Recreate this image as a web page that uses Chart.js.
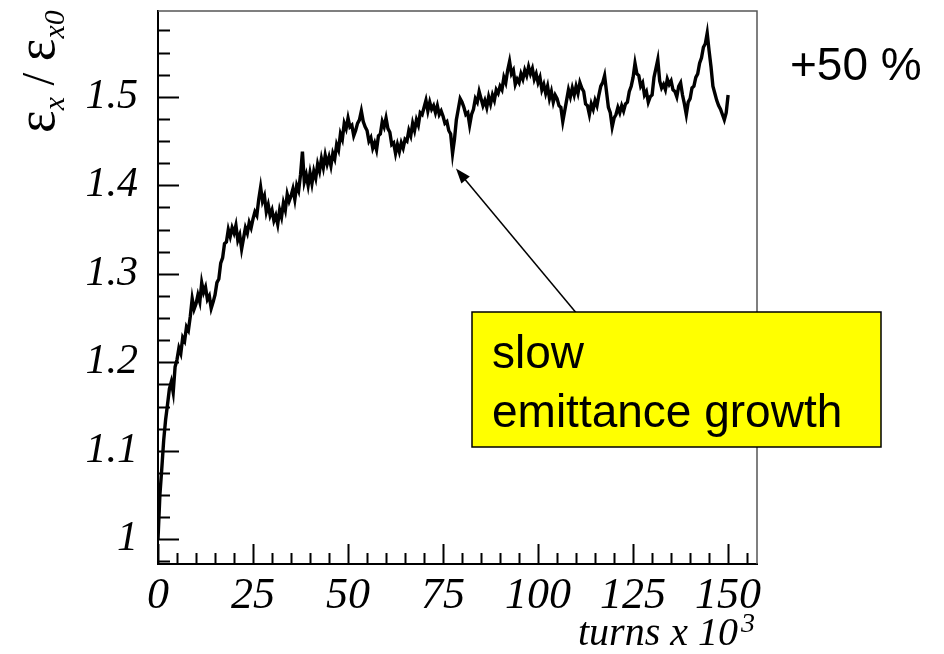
<!DOCTYPE html>
<html>
<head>
<meta charset="utf-8">
<script src="https://cdn.jsdelivr.net/npm/chart.js@4"></script>
<style>
    html, body { margin: 0; padding: 0; background: #ffffff; }
    #wrap { width: 944px; height: 654px; position: relative; }
</style>
</head>
<body>
<div id="wrap"><canvas id="emittanceChart" width="944" height="654"></canvas></div>
<script>
// horizontal emittance ratio, one sample every half thousand turns (0 .. 150)
const TURN_STEP = 0.5;
const EMITTANCE = [
    1.000, 1.050, 1.080, 1.112, 1.135, 1.152, 1.170, 1.178, 1.166, 1.195,
    1.203, 1.216, 1.210, 1.228, 1.224, 1.240, 1.236, 1.252, 1.272, 1.260,
    1.266, 1.276, 1.268, 1.290, 1.279, 1.285, 1.271, 1.275, 1.261, 1.268,
    1.276, 1.290, 1.294, 1.312, 1.318, 1.334, 1.336, 1.350, 1.342, 1.352,
    1.346, 1.355, 1.338, 1.344, 1.328, 1.340, 1.352, 1.346, 1.358, 1.352,
    1.362, 1.370, 1.366, 1.384, 1.398, 1.382, 1.388, 1.370, 1.378, 1.366,
    1.372, 1.360, 1.366, 1.356, 1.372, 1.364, 1.380, 1.372, 1.390, 1.382,
    1.388, 1.396, 1.384, 1.400, 1.394, 1.412, 1.438, 1.404, 1.412, 1.400,
    1.414, 1.402, 1.416, 1.408, 1.424, 1.416, 1.430, 1.420, 1.434, 1.424,
    1.432, 1.422, 1.436, 1.430, 1.446, 1.440, 1.458, 1.452, 1.470, 1.464,
    1.476, 1.466, 1.468, 1.456, 1.462, 1.470, 1.474, 1.484, 1.472, 1.466,
    1.462, 1.450, 1.454, 1.442, 1.448, 1.440, 1.456, 1.458, 1.472, 1.466,
    1.476, 1.464, 1.460, 1.446, 1.448, 1.436, 1.446, 1.438, 1.448, 1.442,
    1.452, 1.450, 1.462, 1.456, 1.470, 1.462, 1.474, 1.468, 1.482, 1.480,
    1.488, 1.496, 1.484, 1.494, 1.486, 1.490, 1.482, 1.490, 1.480, 1.484,
    1.478, 1.470, 1.472, 1.462, 1.458, 1.436, 1.452, 1.474, 1.486, 1.498,
    1.494, 1.488, 1.480, 1.482, 1.468, 1.480, 1.486, 1.498, 1.494, 1.506,
    1.498, 1.490, 1.496, 1.488, 1.500, 1.492, 1.502, 1.496, 1.508, 1.504,
    1.512, 1.508, 1.522, 1.516, 1.530, 1.540, 1.526, 1.530, 1.514, 1.520,
    1.516, 1.526, 1.520, 1.530, 1.524, 1.534, 1.526, 1.532, 1.520, 1.526,
    1.516, 1.522, 1.508, 1.514, 1.504, 1.512, 1.498, 1.506, 1.494, 1.502,
    1.498, 1.490, 1.488, 1.472, 1.484, 1.496, 1.508, 1.500, 1.510, 1.502,
    1.512, 1.504, 1.516, 1.510, 1.506, 1.492, 1.490, 1.480, 1.492, 1.486,
    1.496, 1.490, 1.502, 1.512, 1.516, 1.524, 1.506, 1.488, 1.482, 1.466,
    1.476, 1.480, 1.488, 1.482, 1.490, 1.484, 1.492, 1.494, 1.506, 1.512,
    1.522, 1.538, 1.526, 1.524, 1.512, 1.516, 1.502, 1.506, 1.494, 1.500,
    1.502, 1.522, 1.532, 1.542, 1.518, 1.510, 1.514, 1.508, 1.520, 1.514,
    1.518, 1.508, 1.506, 1.500, 1.512, 1.516, 1.502, 1.492, 1.480, 1.494,
    1.498, 1.510, 1.512, 1.522, 1.526, 1.538, 1.544, 1.556, 1.560, 1.572,
    1.552, 1.534, 1.512, 1.504, 1.496, 1.490, 1.486, 1.480, 1.474, 1.482, 1.502,
];

const X_TICKS = [0, 25, 50, 75, 100, 125, 150];
const Y_TICKS = [1, 1.1, 1.2, 1.3, 1.4, 1.5];
const X_MINOR_STEP = 5;
const Y_MINOR_STEP = 0.025;

const X_MIN = 0;
const X_MAX = 157.6;
const Y_MIN = 0.972;
const Y_MAX = 1.597;

const SERIF = '"Liberation Serif", "DejaVu Serif", serif';
const SANS = '"Liberation Sans", Arial, sans-serif';

const ARROW_TIP = { x: 78.4, y: 1.419 };
const ARROW_BASE = { x: 110, y: 1.256 };
const NOTE_BOX = { left: 472, top: 312, width: 409, height: 135 };
const NOTE_LINES = ['slow', 'emittance growth'];

// root-style frame: ticks point inwards, thin top/right edges
const frameTicks = {
    id: 'frameTicks',
    afterDatasetsDraw(chart) {
        const { ctx, chartArea: area, scales } = chart;
        const xs = scales.x;
        const ys = scales.y;

        ctx.save();
        ctx.strokeStyle = '#555555';
        ctx.lineWidth = 1.5;
        ctx.beginPath();
        ctx.moveTo(area.left, area.top);
        ctx.lineTo(area.right, area.top);
        ctx.lineTo(area.right, area.bottom);
        ctx.stroke();

        ctx.strokeStyle = '#000000';
        ctx.lineWidth = 2;
        ctx.beginPath();
        for (let i = 0; X_MIN + i * X_MINOR_STEP <= X_MAX; i++) {
            const v = X_MIN + i * X_MINOR_STEP;
            const px = Math.round(xs.getPixelForValue(v)) + 0.5;
            const len = X_TICKS.includes(v) ? 20 : 11;
            ctx.moveTo(px, area.bottom);
            ctx.lineTo(px, area.bottom - len);
        }
        for (let i = 0; ; i++) {
            const v = 0.975 + i * Y_MINOR_STEP;
            if (v > Y_MAX) break;
            const py = Math.round(ys.getPixelForValue(v)) + 0.5;
            const major = Y_TICKS.some((t) => Math.abs(t - v) < 1e-6);
            ctx.moveTo(area.left, py);
            ctx.lineTo(area.left + (major ? 21 : 12), py);
        }
        ctx.stroke();
        ctx.restore();
    },
};

// axis titles, percent note and the boxed annotation with its arrow
const annotations = {
    id: 'annotations',
    afterDraw(chart) {
        const { ctx, scales } = chart;
        const xs = scales.x;
        const ys = scales.y;
        ctx.save();
        ctx.fillStyle = '#000000';
        ctx.textBaseline = 'alphabetic';

        // y title: eps_x / eps_x0, reading upwards
        ctx.save();
        ctx.translate(54, 133);
        ctx.rotate(-Math.PI / 2);
        let u = 0;
        const part = (text, font, dy) => {
            ctx.font = font;
            ctx.fillText(text, u, dy);
            u += ctx.measureText(text).width;
        };
        part('\u03b5', `54px ${SERIF}`, 0);
        part('x', `italic 30px ${SERIF}`, 10);
        part(' / ', `46px ${SERIF}`, 0);
        part('\u03b5', `54px ${SERIF}`, 0);
        part('x0', `italic 30px ${SERIF}`, 10);
        ctx.restore();

        // x title: turns x 10^3
        ctx.font = `italic 40px ${SERIF}`;
        ctx.textAlign = 'right';
        ctx.fillText('turns x 10', 738, 645);
        ctx.textAlign = 'left';
        ctx.font = `italic 28px ${SERIF}`;
        ctx.fillText('3', 741, 632);

        ctx.font = `46px ${SANS}`;
        ctx.fillText('+50 %', 790, 80);

        // arrow from the note box up to the dip in the curve
        const tipX = xs.getPixelForValue(ARROW_TIP.x);
        const tipY = ys.getPixelForValue(ARROW_TIP.y);
        const baseX = xs.getPixelForValue(ARROW_BASE.x);
        const baseY = ys.getPixelForValue(ARROW_BASE.y);
        const ang = Math.atan2(tipY - baseY, tipX - baseX);
        ctx.strokeStyle = '#000000';
        ctx.lineWidth = 1.5;
        ctx.beginPath();
        ctx.moveTo(baseX, baseY);
        ctx.lineTo(tipX - 10 * Math.cos(ang), tipY - 10 * Math.sin(ang));
        ctx.stroke();
        ctx.beginPath();
        ctx.moveTo(tipX, tipY);
        ctx.lineTo(tipX - 16 * Math.cos(ang - 0.35), tipY - 16 * Math.sin(ang - 0.35));
        ctx.lineTo(tipX - 16 * Math.cos(ang + 0.35), tipY - 16 * Math.sin(ang + 0.35));
        ctx.closePath();
        ctx.fill();

        ctx.fillStyle = '#ffff00';
        ctx.fillRect(NOTE_BOX.left, NOTE_BOX.top, NOTE_BOX.width, NOTE_BOX.height);
        ctx.strokeStyle = '#000000';
        ctx.lineWidth = 1.5;
        ctx.strokeRect(NOTE_BOX.left, NOTE_BOX.top, NOTE_BOX.width, NOTE_BOX.height);
        ctx.fillStyle = '#000000';
        ctx.font = `46px ${SANS}`;
        NOTE_LINES.forEach((line, i) => {
            ctx.fillText(line, NOTE_BOX.left + 20, NOTE_BOX.top + 56 + i * 59);
        });
        ctx.restore();
    },
};

new Chart(document.getElementById('emittanceChart'), {
    type: 'line',
    data: {
        datasets: [
            {
                data: EMITTANCE.map((v, i) => ({ x: i * TURN_STEP, y: v })),
                borderColor: '#000000',
                borderWidth: 3.4,
                borderJoinStyle: 'miter',
                pointRadius: 0,
                tension: 0,
                fill: false,
            },
        ],
    },
    options: {
        responsive: false,
        animation: false,
        devicePixelRatio: 1,
        layout: { padding: { top: 11, right: 187, bottom: 0, left: 0 } },
        plugins: {
            legend: { display: false },
            tooltip: { enabled: false },
        },
        scales: {
            x: {
                type: 'linear',
                min: X_MIN,
                max: X_MAX,
                afterBuildTicks: (scale) => {
                    scale.ticks = X_TICKS.map((value) => ({ value }));
                },
                afterFit: (scale) => {
                    scale.height = 90;
                    scale.paddingLeft = 0;
                    scale.paddingRight = 0;
                },
                ticks: {
                    autoSkip: false,
                    maxRotation: 0,
                    padding: 6,
                    color: '#000000',
                    font: { family: SERIF, size: 44, style: 'italic' },
                },
                grid: { display: false, drawTicks: false },
                border: { display: true, color: '#000000', width: 2 },
            },
            y: {
                type: 'linear',
                min: Y_MIN,
                max: Y_MAX,
                afterBuildTicks: (scale) => {
                    scale.ticks = Y_TICKS.map((value) => ({ value }));
                },
                afterFit: (scale) => {
                    scale.width = 158;
                    scale.paddingTop = 0;
                    scale.paddingBottom = 0;
                },
                ticks: {
                    padding: 20,
                    color: '#000000',
                    font: { family: SERIF, size: 42, style: 'italic' },
                    callback: (value) => String(value),
                },
                grid: { display: false, drawTicks: false },
                border: { display: true, color: '#000000', width: 2 },
            },
        },
    },
    plugins: [frameTicks, annotations],
});
</script>
</body>
</html>
